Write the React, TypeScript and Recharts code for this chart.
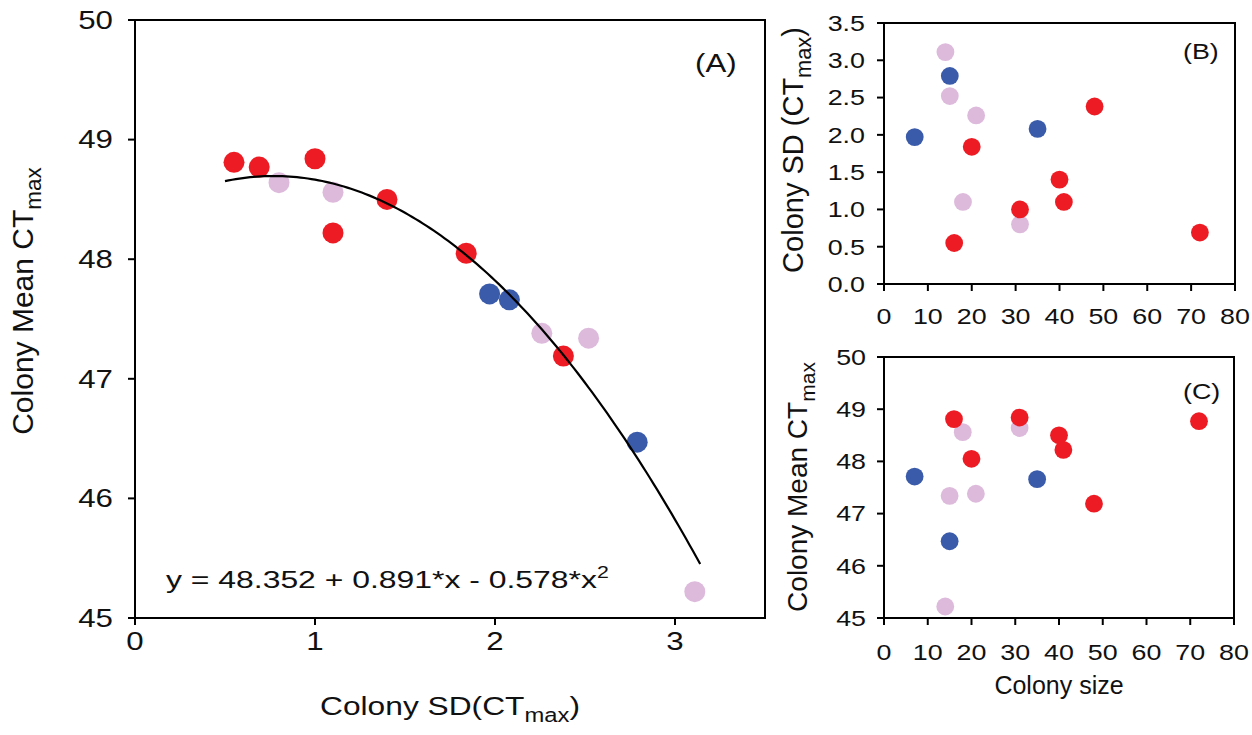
import React from 'react';
import { Label, ReferenceArea, Scatter, ScatterChart, XAxis, YAxis } from 'recharts';

// colony data, one entry per colony, split by group colour
const redSize = [16, 72, 31, 41, 40, 20, 48];
const redSD = [0.55, 0.69, 1.0, 1.1, 1.4, 1.84, 2.38];
const redMean = [48.81, 48.77, 48.84, 48.22, 48.5, 48.05, 47.19];

const pinkSize = [31, 18, 21, 15, 14];
const pinkSD = [0.8, 1.1, 2.26, 2.52, 3.11];
const pinkMean = [48.64, 48.56, 47.38, 47.34, 45.22];

const blueSize = [7, 35, 15];
const blueSD = [1.97, 2.08, 2.79];
const blueMean = [47.71, 47.66, 46.47];

// printed quadratic fit y = b0 + b1*x + b2*x^2, drawn over its x range
const fitCoef = [48.352, 0.891, -0.578];
const fitRange = [0.5, 3.14];

const meanTicks = [45, 46, 47, 48, 49, 50];
const sdTicksA = [0, 1, 2, 3];
const sdTicksB = [0, 0.5, 1, 1.5, 2, 2.5, 3, 3.5];
const sizeTicks = [0, 10, 20, 30, 40, 50, 60, 70, 80];

const RED = '#ED1C24';
const PINK = '#DDB9DC';
const BLUE = '#3A5BAA';
const FONT = "'Liberation Sans', Arial, sans-serif";
const INK = '#111';

const pts = (xs: number[], ys: number[]) => xs.map((x, i) => ({ x, y: ys[i] }));

const fitPts: { x: number; y: number }[] = [];
for (let x = fitRange[0]; x <= fitRange[1] + 1e-9; x += 0.02) {
  fitPts.push({ x, y: fitCoef[0] + fitCoef[1] * x + fitCoef[2] * x * x });
}

const dot = (color: string, r: number) => (p: any) => <circle cx={p.cx} cy={p.cy} r={r} fill={color} />;

const mkTick = (anchor: string, fs: number, sx: number, dy: string, fmt?: (v: number) => string) => (p: any) => (
  <text
    transform={`translate(${p.x},${p.y}) scale(${sx},1)`}
    textAnchor={anchor}
    dy={dy}
    fontSize={fs}
    fontFamily={FONT}
    fill={INK}
  >
    {fmt ? fmt(p.payload.value) : p.payload.value}
  </text>
);

function Txt({ x, y, fs, sx = 1, rot = false, anchor = 'middle', children }: any) {
  return (
    <text
      transform={`translate(${x},${y})${rot ? ' rotate(-90)' : ''} scale(${sx},1)`}
      textAnchor={anchor}
      fontSize={fs}
      fontFamily={FONT}
      fill={INK}
    >
      {children}
    </text>
  );
}

// subscript "max" plus an optional closing text back on the baseline
const sub = (fs: number, s: string, after?: string) => {
  const out = [<tspan key="s" dy={fs * 0.28} fontSize={fs * 0.75}>{s}</tspan>];
  if (after) out.push(<tspan key="a" dy={-fs * 0.28}>{after}</tspan>);
  return out;
};

const axisStyle = { stroke: '#000', strokeWidth: 2 };

function PanelA() {
  return (
    <ScatterChart width={780} height={735} margin={{ top: 20, right: 15, left: 75, bottom: 57 }}>
      <XAxis
        type="number"
        dataKey="x"
        domain={[0, 3.5]}
        ticks={sdTicksA}
        allowDataOverflow
        height={60}
        tickSize={7}
        tickMargin={7}
        axisLine={axisStyle}
        tickLine={axisStyle}
        tick={mkTick('middle', 25, 1.25, '0.71em')}
      >
        <Label content={() => (
          <Txt x={450} y={715} fs={26} sx={1.22}>Colony SD(CT{sub(26, 'max', ')')}</Txt>
        )} />
        <Label content={() => (
          <Txt x={166} y={588} fs={24} sx={1.33} anchor="start">
            y = 48.352 + 0.891*x - 0.578*x<tspan dy={-10} fontSize={16}>2</tspan>
          </Txt>
        )} />
        <Label content={() => <Txt x={695} y={72} fs={26} sx={1.2} anchor="start">(A)</Txt>} />
      </XAxis>
      <YAxis
        type="number"
        dataKey="y"
        domain={[45, 50]}
        ticks={meanTicks}
        allowDataOverflow
        width={60}
        tickSize={7}
        tickMargin={15}
        axisLine={axisStyle}
        tickLine={axisStyle}
        tick={mkTick('end', 25, 1.25, '0.355em')}
      >
        <Label content={() => (
          <Txt x={33} y={301} fs={30} rot>Colony Mean CT{sub(30, 'max')}</Txt>
        )} />
      </YAxis>
      <ReferenceArea x1={0} x2={3.5} y1={45} y2={50} fill="none" stroke="#000" strokeWidth={2} ifOverflow="visible" />
      <Scatter data={pts(pinkSD, pinkMean)} shape={dot(PINK, 10.5)} isAnimationActive={false} />
      <Scatter data={pts(blueSD, blueMean)} shape={dot(BLUE, 10.5)} isAnimationActive={false} />
      <Scatter data={pts(redSD, redMean)} shape={dot(RED, 10.5)} isAnimationActive={false} />
      <Scatter
        data={fitPts}
        line={{ stroke: '#000', strokeWidth: 2.2 }}
        shape={() => <g />}
        isAnimationActive={false}
      />
    </ScatterChart>
  );
}

function PanelB() {
  return (
    <ScatterChart width={492} height={345} margin={{ top: 23, right: 17, left: 64, bottom: 31 }}>
      <XAxis
        type="number"
        dataKey="x"
        domain={[0, 80]}
        ticks={sizeTicks}
        allowDataOverflow
        height={30}
        tickSize={7}
        tickMargin={17}
        axisLine={axisStyle}
        tickLine={axisStyle}
        tick={mkTick('middle', 22, 1.22, '0.71em')}
      >
        <Label content={() => <Txt x={423} y={59} fs={22} sx={1.22} anchor="start">(B)</Txt>} />
      </XAxis>
      <YAxis
        type="number"
        dataKey="y"
        domain={[0, 3.5]}
        ticks={sdTicksB}
        allowDataOverflow
        width={60}
        tickSize={7}
        tickMargin={12}
        axisLine={axisStyle}
        tickLine={axisStyle}
        tick={mkTick('end', 22, 1.22, '0.355em', (v) => v.toFixed(1))}
      >
        <Label content={() => (
          <Txt x={43} y={150} fs={29} rot>Colony SD (CT{sub(29, 'max', ')')}</Txt>
        )} />
      </YAxis>
      <ReferenceArea x1={0} x2={80} y1={0} y2={3.5} fill="none" stroke="#000" strokeWidth={2} ifOverflow="visible" />
      <Scatter data={pts(pinkSize, pinkSD)} shape={dot(PINK, 8.9)} isAnimationActive={false} />
      <Scatter data={pts(blueSize, blueSD)} shape={dot(BLUE, 8.9)} isAnimationActive={false} />
      <Scatter data={pts(redSize, redSD)} shape={dot(RED, 8.9)} isAnimationActive={false} />
    </ScatterChart>
  );
}

function PanelC() {
  return (
    <ScatterChart width={492} height={415} margin={{ top: 37, right: 18, left: 64, bottom: 57 }}>
      <XAxis
        type="number"
        dataKey="x"
        domain={[0, 80]}
        ticks={sizeTicks}
        allowDataOverflow
        height={60}
        tickSize={7}
        tickMargin={19}
        axisLine={axisStyle}
        tickLine={axisStyle}
        tick={mkTick('middle', 22, 1.22, '0.71em')}
      >
        <Label content={() => <Txt x={299} y={374} fs={25}>Colony size</Txt>} />
        <Label content={() => <Txt x={423} y={79} fs={22} sx={1.22} anchor="start">(C)</Txt>} />
      </XAxis>
      <YAxis
        type="number"
        dataKey="y"
        domain={[45, 50]}
        ticks={meanTicks}
        allowDataOverflow
        width={60}
        tickSize={7}
        tickMargin={11}
        axisLine={axisStyle}
        tickLine={axisStyle}
        tick={mkTick('end', 22, 1.22, '0.355em')}
      >
        <Label content={() => (
          <Txt x={47} y={167} fs={28} rot>Colony Mean CT{sub(28, 'max')}</Txt>
        )} />
      </YAxis>
      <ReferenceArea x1={0} x2={80} y1={45} y2={50} fill="none" stroke="#000" strokeWidth={2} ifOverflow="visible" />
      <Scatter data={pts(pinkSize, pinkMean)} shape={dot(PINK, 8.9)} isAnimationActive={false} />
      <Scatter data={pts(blueSize, blueMean)} shape={dot(BLUE, 8.9)} isAnimationActive={false} />
      <Scatter data={pts(redSize, redMean)} shape={dot(RED, 8.9)} isAnimationActive={false} />
    </ScatterChart>
  );
}

export default function App() {
  return (
    <div style={{ position: 'absolute', left: 0, top: 0, width: 1252, height: 735, background: '#fff' }}>
      <div style={{ position: 'absolute', left: 0, top: 0 }}>
        <PanelA />
      </div>
      <div style={{ position: 'absolute', left: 760, top: 0 }}>
        <PanelB />
      </div>
      <div style={{ position: 'absolute', left: 760, top: 320 }}>
        <PanelC />
      </div>
    </div>
  );
}
